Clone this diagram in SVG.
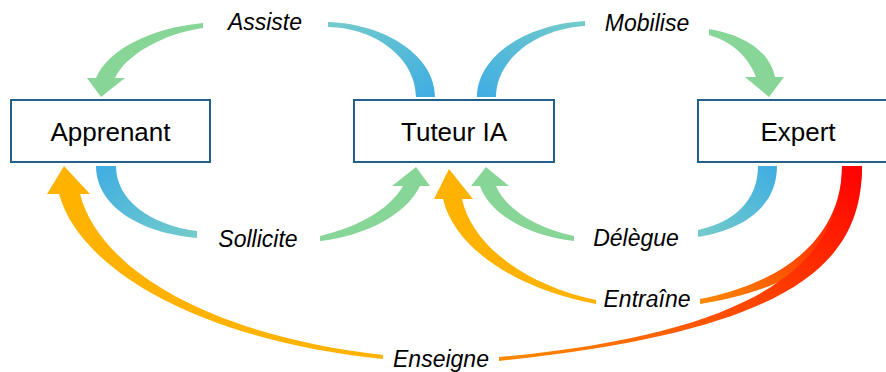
<svg xmlns="http://www.w3.org/2000/svg" width="886" height="372" viewBox="0 0 886 372">
<defs>
<style>
.box{fill:#fff;stroke:#23618C;stroke-width:2}
.nl{font-family:"Liberation Sans",Arial,sans-serif;font-size:26px;fill:#000;text-anchor:middle}
.el{font-family:"Liberation Sans",Arial,sans-serif;font-size:23px;font-style:italic;fill:#000;text-anchor:middle}
.green{fill:#88D697}
.orange{fill:#FFB300}
</style>
<linearGradient id="bA" x1="1" y1="1" x2="0" y2="0"><stop offset="0" stop-color="#3FADE3"/><stop offset="1" stop-color="#74CCCA"/></linearGradient>
<linearGradient id="bC" x1="0" y1="1" x2="1" y2="0"><stop offset="0" stop-color="#3FADE3"/><stop offset="1" stop-color="#74CCCA"/></linearGradient>
<linearGradient id="bE" x1="0" y1="0" x2="1" y2="1"><stop offset="0" stop-color="#3FADE3"/><stop offset="1" stop-color="#74CCCA"/></linearGradient>
<linearGradient id="bG" x1="1" y1="0" x2="0" y2="1"><stop offset="0" stop-color="#3FADE3"/><stop offset="1" stop-color="#74CCCA"/></linearGradient>
<linearGradient id="rd" x1="1" y1="0" x2="0" y2="1"><stop offset="0" stop-color="#FF0000"/><stop offset="1" stop-color="#FF8A00"/></linearGradient>
</defs>
<g id="connectors">
<path id="assiste-tail" fill="url(#bA)" d="M 328,22 C 386,24 435,56 435,97 L 416,97 C 416,60 378,28 328,27 Z"/>
<path id="assiste-head" class="green" d="M 203,23 C 150,28 108,50 96,78 L 87,78 L 101,97 L 125,78 L 115,78 C 126,55 162,34 203,28 Z"/>
<path id="mobilise-tail" fill="url(#bC)" d="M 585,21 C 527,24 477,56 477,97 L 496,97 C 496,60 535,29 585,26 Z"/>
<path id="mobilise-head" class="green" d="M 709,29 C 745,35 770,52 775,77 L 784,77 L 769,97 L 745,77 L 756,77 C 749,58 733,42 709,35 Z"/>
<path id="sollicite-tail" fill="url(#bE)" d="M 96,166 C 96,206 140,233 197,238 L 197,231 C 150,225 116,200 116,166 Z"/>
<path id="sollicite-head" class="green" d="M 320,241 C 365,236 406,215 420,186 L 430,186 L 416,167 L 392,186 L 403,186 C 391,207 362,226 320,236 Z"/>
<path id="delegue-tail" fill="url(#bG)" d="M 777,166 C 777,206 745,229 698,237 L 698,230 C 735,222 758,200 758,166 Z"/>
<path id="delegue-head" class="green" d="M 574,241 C 530,236 490,215 480,186 L 471,186 L 486,167 L 509,186 L 496,186 C 505,208 535,228 574,236 Z"/>
<path id="entraine-head" class="orange" d="M 596,304 C 520,290 455,250 443,199 L 434,199 L 449,169 L 473,199 L 462,199 C 472,245 525,285 596,300 Z"/>
<path id="enseigne-head" class="orange" d="M 383,359 C 200,340 80,270 59,194 L 47,194 L 64,166 L 90,194 L 80,194 C 100,270 210,335 383,355 Z"/>
<path id="entraine-tail" fill="url(#rd)" d="M 862,166 C 862,250 790,290 700,304 L 700,299 C 780,284 842,240 842,166 Z"/>
<path id="enseigne-tail" fill="url(#rd)" d="M 862,166 C 862,260 800,330 499,361 L 499,357 C 760,333 842,262 842,166 Z"/>
</g>
<g id="labels">
<text class="el" x="265" y="30">Assiste</text>
<text class="el" x="647" y="31">Mobilise</text>
<text class="el" x="258" y="247">Sollicite</text>
<text class="el" x="636" y="246">Délègue</text>
<text class="el" x="647" y="307">Entraîne</text>
<text class="el" x="441" y="367">Enseigne</text>
</g>
<g id="node-apprenant">
<rect class="box" x="11" y="100" width="199" height="62"/>
<text class="nl" x="110.5" y="141">Apprenant</text>
</g>
<g id="node-tuteur">
<rect class="box" x="354" y="100" width="200" height="62"/>
<text class="nl" x="454" y="141">Tuteur IA</text>
</g>
<g id="node-expert">
<rect class="box" x="698" y="100" width="200" height="62"/>
<text class="nl" x="798" y="141">Expert</text>
</g>
</svg>
